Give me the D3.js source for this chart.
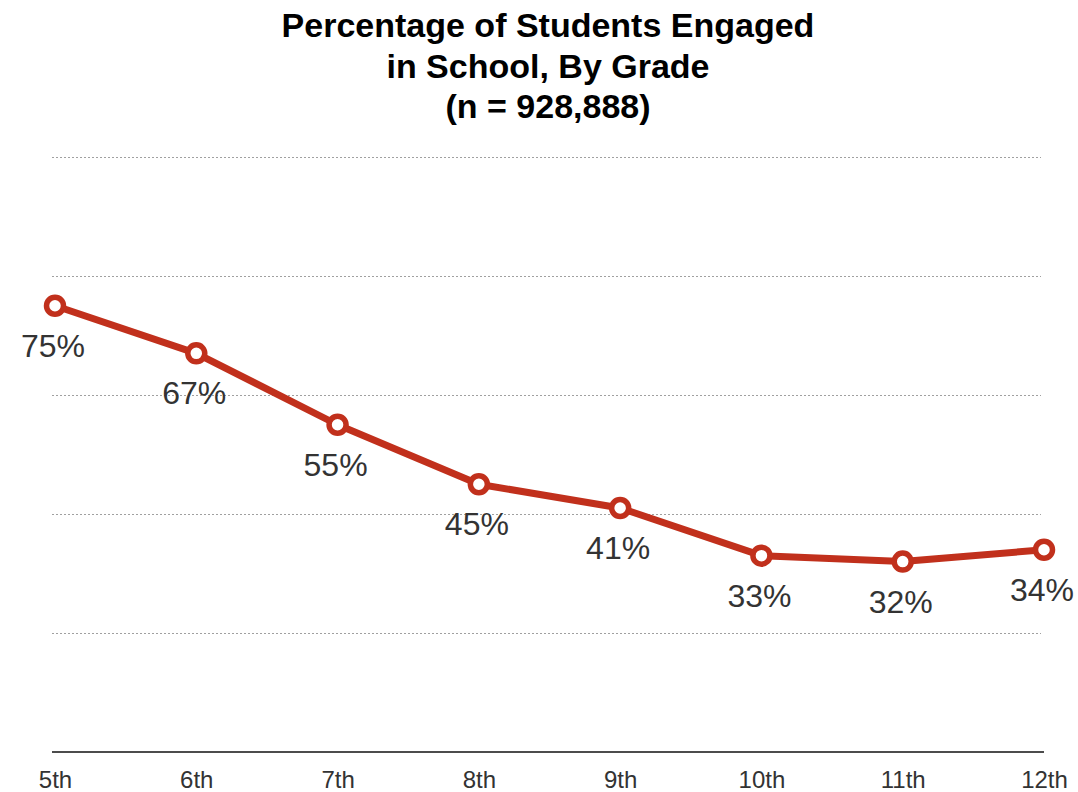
<!DOCTYPE html>
<html>
<head>
<meta charset="utf-8">
<script src="https://cdn.jsdelivr.net/npm/d3@7"></script>
<style>
  html, body { margin: 0; padding: 0; background: #fff; }
  svg text { font-family: "Liberation Sans", Arial, Helvetica, sans-serif; }
</style>
</head>
<body>
<div id="viz"></div>
<script>
// chart data
const grades = ['5th', '6th', '7th', '8th', '9th', '10th', '11th', '12th'];
const engaged = [75, 67, 55, 45, 41, 33, 32, 34];
const gridTicks = [20, 40, 60, 80, 100];
const titleLines = ['Percentage of Students Engaged', 'in School, By Grade', '(n = 928,888)'];

(function () {
  const W = 1078, H = 792;
  const red = '#c1301c';

  const svg = d3.select('#viz')
    .append('svg')
    .attr('width', W)
    .attr('height', H);

  const x = d3.scalePoint()
    .domain(grades)
    .range([55, 1044]);

  const y = d3.scaleLinear()
    .domain([0, 100])
    .range([752, 157]);

  // title
  svg.append('g')
    .selectAll('text')
    .data(titleLines)
    .enter()
    .append('text')
    .attr('x', 548)
    .attr('y', (d, i) => 37 + i * 40.5)
    .attr('text-anchor', 'middle')
    .attr('font-size', 34)
    .attr('font-weight', 'bold')
    .attr('fill', '#000')
    .text((d) => d);

  // dotted gridlines
  svg.append('g')
    .selectAll('line')
    .data(gridTicks)
    .enter()
    .append('line')
    .attr('x1', 52)
    .attr('x2', 1041)
    .attr('y1', (d) => Math.round(y(d)) + 0.5)
    .attr('y2', (d) => Math.round(y(d)) + 0.5)
    .attr('stroke', '#a0a0a0')
    .attr('stroke-width', 1)
    .attr('stroke-dasharray', '2,2');

  // baseline
  svg.append('line')
    .attr('x1', 52)
    .attr('x2', 1044)
    .attr('y1', y(0))
    .attr('y2', y(0))
    .attr('stroke', '#111')
    .attr('stroke-width', 1.5);

  // x axis labels
  const xAxis = svg.append('g')
    .attr('transform', `translate(0,${y(0)})`)
    .call(d3.axisBottom(x).tickSize(0).tickPadding(0));
  xAxis.select('.domain').remove();
  xAxis.selectAll('text')
    .attr('dy', null)
    .attr('y', 36)
    .attr('font-size', 24)
    .attr('font-family', '"Liberation Sans", Arial, sans-serif')
    .attr('fill', '#333');

  // line
  const line = d3.line()
    .x((d, i) => x(grades[i]))
    .y((d) => y(d));

  svg.append('path')
    .datum(engaged)
    .attr('d', line)
    .attr('fill', 'none')
    .attr('stroke', red)
    .attr('stroke-width', 7)
    .attr('stroke-linejoin', 'round');

  // markers
  svg.append('g')
    .selectAll('circle')
    .data(engaged)
    .enter()
    .append('circle')
    .attr('cx', (d, i) => x(grades[i]))
    .attr('cy', (d) => y(d))
    .attr('r', 8.5)
    .attr('fill', '#fff')
    .attr('stroke', red)
    .attr('stroke-width', 5.5);

  // value labels
  svg.append('g')
    .selectAll('text')
    .data(engaged)
    .enter()
    .append('text')
    .attr('x', (d, i) => x(grades[i]) - 2)
    .attr('y', (d) => y(d) + 51)
    .attr('text-anchor', 'middle')
    .attr('font-size', 32)
    .attr('fill', '#333')
    .text((d) => d + '%');
})();
</script>
</body>
</html>
